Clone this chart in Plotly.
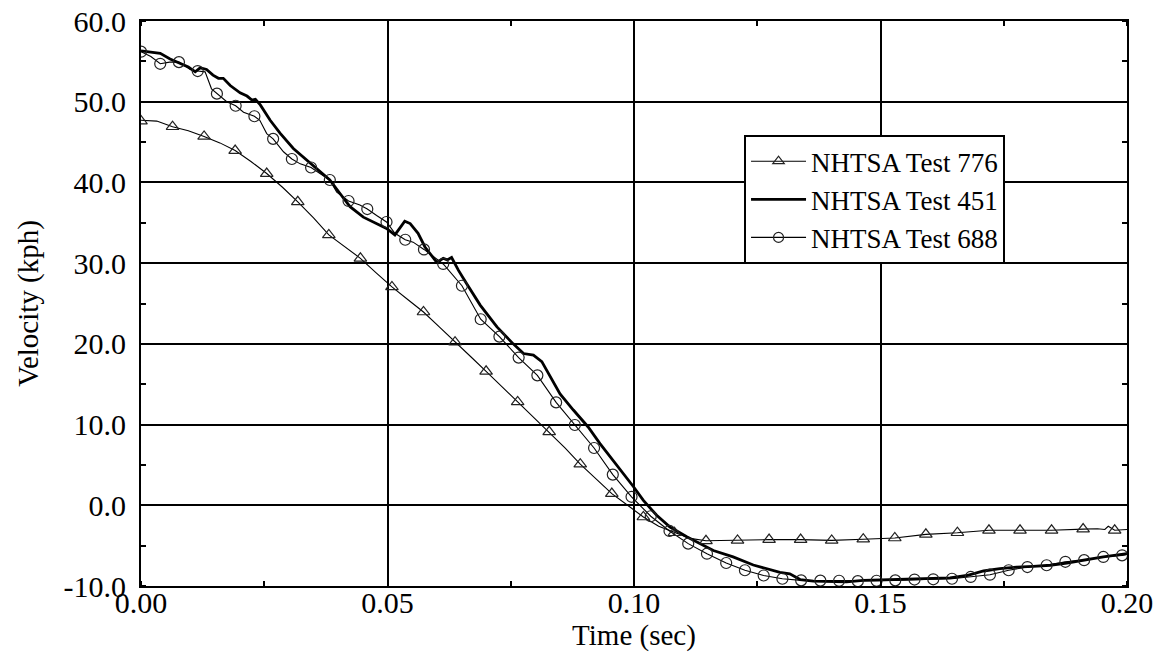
import plotly.graph_objects as go

# ---------------- data ----------------
X_TICKS = [0.00, 0.05, 0.10, 0.15, 0.20]
Y_TICKS = [-10, 0, 10, 20, 30, 40, 50, 60]

# NHTSA Test 776 (thin line, triangles)
T776_LINE_T = [0.0000, 0.0032, 0.0064, 0.0096, 0.0128, 0.0160, 0.0191, 0.0223, 0.0255, 0.0287,
               0.0318, 0.0350, 0.0381, 0.0413, 0.0445, 0.0477, 0.0509, 0.0541, 0.0573, 0.0605,
               0.0637, 0.0669, 0.0700, 0.0732, 0.0764, 0.0796, 0.0828, 0.0860, 0.0891, 0.0923,
               0.0955, 0.0987, 0.1019, 0.1050, 0.1082, 0.1114, 0.1146, 0.1178, 0.1210, 0.1274,
               0.1338, 0.1401, 0.1465, 0.1529, 0.1592, 0.1656, 0.1720, 0.1783, 0.1847, 0.1911,
               0.1940, 0.1955, 0.1962, 0.1975, 0.2000]
T776_LINE_V = [47.7, 47.6, 46.9, 46.4, 45.7, 44.9, 43.95, 42.6, 41.1, 39.4,
               37.6, 35.6, 33.5, 32.0, 30.6, 28.8, 27.05, 25.5, 23.95, 22.1,
               20.2, 18.4, 16.6, 14.7, 12.8, 10.9, 9.1, 7.1, 5.1, 3.3,
               1.45, 0.0, -1.45, -2.6, -3.4, -4.1, -4.4, -4.35, -4.35, -4.25,
               -4.25, -4.35, -4.2, -4.05, -3.6, -3.4, -3.1, -3.1, -3.1, -2.95,
               -2.9, -3.0, -2.6, -3.1, -3.0]
T776_MARK_T = [0.0000, 0.0064, 0.0128, 0.0191, 0.0255, 0.0318, 0.0381, 0.0445, 0.0509, 0.0573,
               0.0637, 0.0700, 0.0764, 0.0828, 0.0891, 0.0955, 0.1019, 0.1082, 0.1146, 0.1210,
               0.1274, 0.1338, 0.1401, 0.1465, 0.1529, 0.1592, 0.1656, 0.1720, 0.1783, 0.1847,
               0.1911, 0.1975]
T776_MARK_V = [47.6, 46.9, 45.7, 43.95, 41.1, 37.6, 33.5, 30.6, 27.05, 23.95,
               20.2, 16.6, 12.8, 9.1, 5.1, 1.45, -1.45, -3.4, -4.4, -4.35,
               -4.25, -4.25, -4.35, -4.2, -4.05, -3.6, -3.4, -3.1, -3.1, -3.1,
               -2.95, -3.1]

# NHTSA Test 451 (thick line, no markers)
T451_T = [0.0000, 0.0039, 0.0059, 0.0079, 0.0096, 0.0110, 0.0120, 0.0133, 0.0146, 0.0157,
          0.0167, 0.0181, 0.0201, 0.0215, 0.0225, 0.0232, 0.0242, 0.0262, 0.0282, 0.0309,
          0.0336, 0.0357, 0.0383, 0.0404, 0.0424, 0.0451, 0.0478, 0.0498, 0.0515, 0.0535,
          0.0546, 0.0562, 0.0576, 0.0590, 0.0600, 0.0613, 0.0621, 0.0630, 0.0644, 0.0660,
          0.0688, 0.0722, 0.0755, 0.0776, 0.0796, 0.0813, 0.0830, 0.0850, 0.0877, 0.0907,
          0.0931, 0.0955, 0.0978, 0.0999, 0.1019, 0.1046, 0.1073, 0.1107, 0.1161, 0.1201,
          0.1242, 0.1296, 0.1316, 0.1337, 0.1364, 0.1431, 0.1465, 0.1499, 0.1573, 0.1641,
          0.1675, 0.1709, 0.1742, 0.1776, 0.1810, 0.1844, 0.1878, 0.1911, 0.1952, 0.2000]
T451_V = [56.3, 56.0, 55.3, 54.8, 54.3, 53.7, 54.2, 54.0, 53.3, 52.9,
          52.9, 52.0, 51.1, 50.7, 50.2, 50.3, 49.6, 47.7, 46.1, 44.2,
          42.75, 41.7, 40.3, 38.6, 37.0, 35.7, 34.9, 34.3, 33.5, 35.2,
          34.9, 33.7, 32.0, 30.8, 30.1, 30.6, 30.4, 30.7, 29.1, 27.5,
          24.8, 22.1, 20.0, 18.8, 18.6, 17.8, 15.9, 13.8, 11.8, 9.7,
          7.65, 5.8, 3.9, 2.3, 0.6, -1.24, -2.7, -3.9, -5.6, -6.4,
          -7.4, -8.3, -8.5, -9.2, -9.4, -9.5, -9.3, -9.25, -9.17, -9.0,
          -8.7, -8.14, -7.85, -7.65, -7.56, -7.43, -7.15, -6.8, -6.4, -6.0]

# NHTSA Test 688 (thin line, circles)
T688_LINE_T = [0.0000, 0.0020, 0.0039, 0.0058, 0.0077, 0.0100, 0.0115, 0.0130, 0.0143, 0.0154,
               0.0174, 0.0192, 0.0208, 0.0230, 0.0241, 0.0255, 0.0268, 0.0289, 0.0306, 0.0323,
               0.0345, 0.0363, 0.0383, 0.0397, 0.0421, 0.0444, 0.0459, 0.0478, 0.0498, 0.0515,
               0.0536, 0.0552, 0.0574, 0.0613, 0.0651, 0.0689, 0.0727, 0.0766, 0.0804, 0.0842,
               0.0880, 0.0919, 0.0957, 0.0995, 0.1034, 0.1072, 0.1110, 0.1148, 0.1187, 0.1225,
               0.1263, 0.1301, 0.1339, 0.1378, 0.1416, 0.1454, 0.1492, 0.1530, 0.1569, 0.1607,
               0.1645, 0.1683, 0.1722, 0.1760, 0.1798, 0.1837, 0.1875, 0.1913, 0.1952, 0.1990,
               0.2000]
T688_LINE_V = [56.2, 55.6, 54.7, 54.9, 54.9, 54.0, 53.8, 53.7, 51.6, 51.0,
               50.0, 49.5, 48.7, 48.2, 47.7, 46.05, 45.4, 43.8, 42.9, 42.3,
               41.85, 41.1, 40.3, 38.8, 37.7, 37.2, 36.7, 35.9, 35.1, 33.7,
               32.9, 32.6, 31.7, 29.9, 27.2, 23.05, 20.9, 18.3, 16.1, 12.75,
               9.95, 7.1, 3.8, 1.05, -1.36, -3.18, -4.75, -6.0, -7.15, -8.05,
               -8.7, -9.1, -9.3, -9.33, -9.35, -9.4, -9.35, -9.3, -9.2, -9.17,
               -9.1, -8.88, -8.6, -8.05, -7.65, -7.43, -7.0, -6.8, -6.4, -6.2,
               -6.1]
T688_MARK_T = [0.0000, 0.0039, 0.0077, 0.0115, 0.0154, 0.0192, 0.0230, 0.0268, 0.0306, 0.0345,
               0.0383, 0.0421, 0.0459, 0.0498, 0.0536, 0.0574, 0.0613, 0.0651, 0.0689, 0.0727,
               0.0766, 0.0804, 0.0842, 0.0880, 0.0919, 0.0957, 0.0995, 0.1034, 0.1072, 0.1110,
               0.1148, 0.1187, 0.1225, 0.1263, 0.1301, 0.1339, 0.1378, 0.1416, 0.1454, 0.1492,
               0.1530, 0.1569, 0.1607, 0.1645, 0.1683, 0.1722, 0.1760, 0.1798, 0.1837, 0.1875,
               0.1913, 0.1952, 0.1990]
T688_MARK_V = [56.2, 54.7, 54.9, 53.8, 51.0, 49.5, 48.2, 45.4, 42.9, 41.85,
               40.3, 37.7, 36.7, 35.1, 32.9, 31.7, 29.9, 27.2, 23.05, 20.9,
               18.3, 16.1, 12.75, 9.95, 7.1, 3.8, 1.05, -1.36, -3.18, -4.75,
               -6.0, -7.15, -8.05, -8.7, -9.1, -9.3, -9.33, -9.35, -9.4, -9.35,
               -9.3, -9.2, -9.17, -9.1, -8.88, -8.6, -8.05, -7.65, -7.43, -7.0,
               -6.8, -6.4, -6.2]

NAMES = ["NHTSA Test 776", "NHTSA Test 451", "NHTSA Test 688"]

# ---------------- figure ----------------
FONT = "Liberation Serif, Times New Roman, serif"
MK_COLOR = "#222"
fig = go.Figure()

# lines
fig.add_trace(go.Scatter(x=T776_LINE_T, y=T776_LINE_V, mode="lines",
                         line=dict(color="black", width=1.1), showlegend=False, hoverinfo="skip"))
fig.add_trace(go.Scatter(x=T688_LINE_T, y=T688_LINE_V, mode="lines",
                         line=dict(color="black", width=1.1), showlegend=False, hoverinfo="skip"))
fig.add_trace(go.Scatter(x=T451_T, y=T451_V, mode="lines",
                         line=dict(color="black", width=2.8), showlegend=False))
# markers
fig.add_trace(go.Scatter(x=T776_MARK_T, y=T776_MARK_V, mode="markers",
                         marker=dict(symbol="triangle-up-open", size=11, color=MK_COLOR,
                                     line=dict(width=1.2, color=MK_COLOR)),
                         showlegend=False))
fig.add_trace(go.Scatter(x=T688_MARK_T, y=T688_MARK_V, mode="markers",
                         marker=dict(symbol="circle-open", size=11, color=MK_COLOR,
                                     line=dict(width=1.2, color=MK_COLOR)),
                         showlegend=False))
# legend entries
fig.add_trace(go.Scatter(x=[None], y=[None], mode="lines+markers", name=NAMES[0],
                         line=dict(color="black", width=1.1),
                         marker=dict(symbol="triangle-up-open", size=10, color=MK_COLOR,
                                     line=dict(width=1.2, color=MK_COLOR))))
fig.add_trace(go.Scatter(x=[None], y=[None], mode="lines", name=NAMES[1],
                         line=dict(color="black", width=2.8)))
fig.add_trace(go.Scatter(x=[None], y=[None], mode="lines+markers", name=NAMES[2],
                         line=dict(color="black", width=1.1),
                         marker=dict(symbol="circle-open", size=10, color=MK_COLOR,
                                     line=dict(width=1.2, color=MK_COLOR))))

axis_common = dict(
    showgrid=True, gridcolor="black", gridwidth=2,
    showline=True, linecolor="black", linewidth=2, mirror="ticks",
    ticks="", zeroline=False, automargin=False,
    tickfont=dict(family=FONT, size=30, color="black"),
)

fig.update_layout(
    template="none",
    width=1157, height=652,
    margin=dict(l=141, r=30, t=21, b=66, pad=0),
    paper_bgcolor="white", plot_bgcolor="white",
    font=dict(family=FONT, color="black"),
    xaxis=dict(
        range=[0, 0.2], tickvals=X_TICKS, ticktext=[f"{v:.2f}" for v in X_TICKS],
        minor=dict(ticks="inside", dtick=0.025, tick0=0, ticklen=5, tickwidth=2,
                   tickcolor="black", showgrid=False),
        title=dict(text="Time (sec)", font=dict(family=FONT, size=29, color="black"), standoff=0),
        ticklabelstandoff=-11,
        **axis_common,
    ),
    yaxis=dict(
        range=[-10, 60], tickvals=Y_TICKS, ticktext=[f"{v:.1f}" for v in Y_TICKS],
        minor=dict(ticks="inside", dtick=5, tick0=0, ticklen=5, tickwidth=2,
                   tickcolor="black", showgrid=False),
        title=dict(text="Velocity (kph)", font=dict(family=FONT, size=29, color="black"), standoff=16),
        ticklabelstandoff=7,
        **axis_common,
    ),
    legend=dict(
        x=0.6116, y=0.798, xanchor="left", yanchor="top",
        bgcolor="white", bordercolor="black", borderwidth=2,
        font=dict(family=FONT, size=27, color="black"),
        traceorder="normal", itemwidth=55,
    ),
    showlegend=True,
)

fig.write_html("out.html")
